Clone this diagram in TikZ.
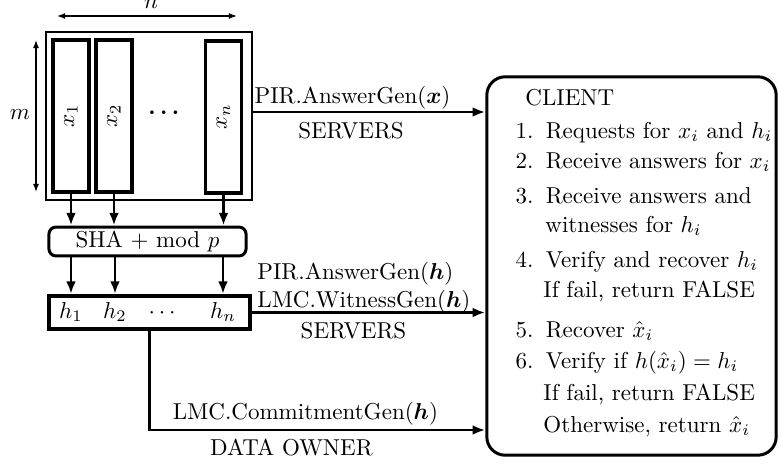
\documentclass[tikz,border=0pt]{standalone}
\usepackage{amsmath}
\usetikzlibrary{arrows.meta}

\newcommand{\stepno}[1]{\makebox[7.8pt][r]{#1}\hspace{5.4pt}}

\begin{document}
\begin{tikzpicture}[x=0.01528cm, y=-0.01528cm,
	box/.style = {draw=black, inner sep=0pt},
	column/.style = {box, line width=1.4pt, minimum width=0.55cm, minimum height=2.32cm},
	arr/.style = {line width=1.3pt, -{Latex[length=5.5pt,width=4.2pt]}},
	dim/.style = {semithick, {Latex[length=3.5pt,width=2.6pt]}-{Latex[length=3.5pt,width=2.6pt]}},
	lbl/.style = {anchor=base, inner sep=0pt},
	cl/.style = {anchor=base west, inner sep=0pt}, ]
	\useasboundingbox (0,0) rectangle (779,466);
	% data matrix
	\node [box, semithick, minimum width=3.15cm, minimum height=2.57cm] (data) at (149,116) {};
	\node [column] (x1) at (71,116) {\rotatebox{90}{$x_1$}};
	\node [column] (x2) at (114,116) {\rotatebox{90}{$x_2$}};
	\node [column] (xn) at (223.5,117) {\rotatebox{90}{$x_n$}};
	\node [lbl] (xdots) at (166,118) {$\boldsymbol{\cdots}$};
	\coordinate (nl) at (57,16);
	\coordinate (nr) at (237,16);
	\draw [dim] (nl) -- (nr);
	\node [lbl] (n) at (151,8) {$n$};
	\coordinate (mt) at (36,40);
	\coordinate (mb) at (36,192);
	\draw [dim] (mt) -- (mb);
	\node [lbl] (m) at (20,119) {$m$};
	% hashing
	\node [box, line width=1.3pt, rounded corners=3pt, minimum width=3.01cm, minimum height=0.44cm] (sha) at (147.5,241.5) {SHA + mod $p$};
	\node [box, line width=1.8pt, minimum width=3.07cm, minimum height=0.50cm] (hbox) at (149.5,312.5) {};
	\node [lbl] (h1) at (71,318) {$h_1$};
	\node [lbl] (h2) at (115,318) {$h_2$};
	\node [lbl] (hdots) at (164,318) {$\cdots$};
	\node [lbl] (hn) at (223,318) {$h_n$};
	\foreach \c in {x1,x2,xn}
		\draw [arr] (\c.south) -- (\c.south |- sha.north);
	\foreach \c in {h1,h2,hn}
		\draw [arr] (sha.south -| \c) -- (hbox.north -| \c);
	% client
	\node [box, line width=1.3pt, rounded corners=8pt, minimum width=4.42cm, minimum height=5.78cm] (client) at (631.5,266) {};
	\node [cl] (title) at (525,105) {CLIENT};
	\node [cl] (s1) at (515,138) {\stepno{1.}Requests for $x_i$ and $h_i$};
	\node [cl] (s2) at (515,168) {\stepno{2.}Receive answers for $x_i$};
	\node [cl] (s3) at (515,203) {\stepno{3.}Receive answers and};
	\node [cl] (s3b) at (545,232) {witnesses for $h_i$};
	\node [cl] (s4) at (515,267) {\stepno{4.}Verify and recover $h_i$};
	\node [cl] (s4b) at (543,297) {If fail, return FALSE};
	\node [cl] (s5) at (515,337) {\stepno{5.}Recover $\hat{x}_i$};
	\node [cl] (s6) at (515,368) {\stepno{6.}Verify if $h(\hat{x}_i) = h_i$};
	\node [cl] (s6b) at (543,400) {If fail, return FALSE};
	\node [cl] (s6c) at (543,432) {Otherwise, return $\hat{x}_i$};
	% queries
	\coordinate (ans) at (0,112);
	\coordinate (own) at (0,430);
	\draw [arr] (data.east |- ans) -- (client.west |- ans);
	\draw [arr] (hbox.east) -- (hbox.east -| client.west);
	\draw [arr] (hbox.south) |- (client.west |- own);
	\node [lbl] (ansx) at (352.5,103) {PIR.AnswerGen$(\boldsymbol{x})$};
	\node [lbl] (srvx) at (351,138) {SERVERS};
	\node [cl] (ansh) at (257,279) {PIR.AnswerGen$(\boldsymbol{h})$};
	\node [cl] (with) at (257,307) {LMC.WitnessGen$(\boldsymbol{h})$};
	\node [lbl] (srvh) at (353.5,338) {SERVERS};
	\node [lbl] (comh) at (305.5,419) {LMC.CommitmentGen$(\boldsymbol{h})$};
	\node [lbl] (owner) at (291.5,455) {DATA OWNER};
\end{tikzpicture}
\end{document}
